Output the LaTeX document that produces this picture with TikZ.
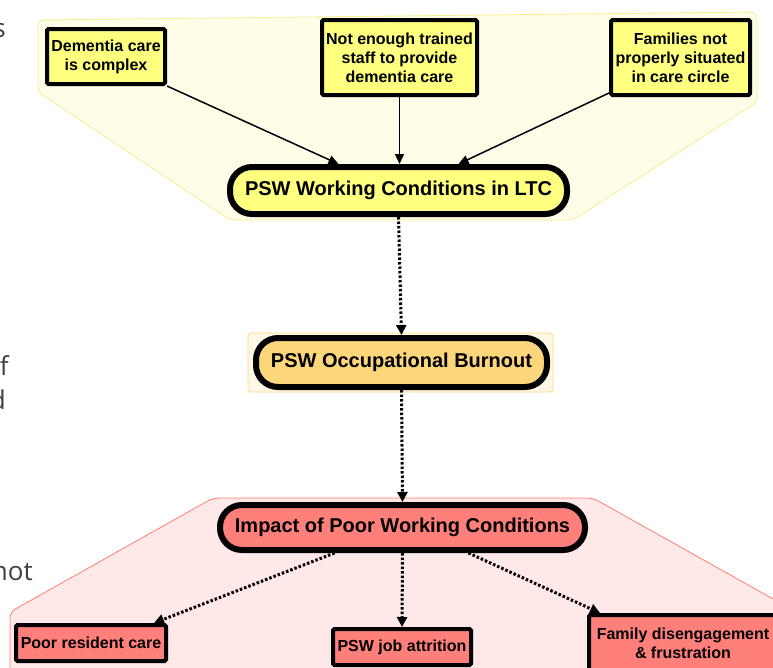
\documentclass[tikz,border=0pt]{standalone}
\usepackage{fontspec}
\setmainfont{Liberation Sans}
\newfontfamily\slidefont{Open Sans}
\usetikzlibrary{arrows.meta}
\definecolor{causefill}{HTML}{FFFF80}
\definecolor{causebg}{HTML}{FFFDE8}
\definecolor{causeedge}{HTML}{F7EE8C}
\definecolor{burnfill}{HTML}{FCD67A}
\definecolor{burnbg}{HTML}{FFF8E6}
\definecolor{burnedge}{HTML}{FFD97A}
\definecolor{impactfill}{HTML}{FF7F7A}
\definecolor{impactbg}{HTML}{FFE8E8}
\definecolor{impactedge}{HTML}{FF7F6F}
\definecolor{slidegray}{HTML}{404040}
\tikzset{
box/.style={draw, line width=4pt, rounded corners=1.5pt, align=center, inner sep=0pt, font=\fontsize{16}{19}\selectfont\bfseries}, % the small square boxes
pill/.style={draw, line width=6pt, rounded corners=22pt, inner sep=0pt, font=\fontsize{20}{24}\selectfont\bfseries}, % the rounded main boxes
solidarrow/.style={-{Triangle[length=10pt, width=9pt]}, line width=1.5pt}, % causes into the working conditions
dotarrow/.style={-{Triangle[length=10pt, width=10pt]}, line width=3pt, dash pattern=on 2.5pt off 2pt}, % the chain of effects
group/.style={line width=0.8pt, rounded corners=6pt}, % coloured areas behind the boxes
slidetext/.style={text=slidegray, inner sep=0pt, font=\slidefont\fontsize{26}{30}\selectfont}, % cut off words of the slide
}

\begin{document}
\begin{tikzpicture}[x=1pt, y=-1pt]
        \useasboundingbox (0,0) rectangle (773,667);
        \clip (0,0) rectangle (773,667);

        % areas behind the boxes
        \filldraw[fill=causebg, draw=causeedge, group] (38,92) -- (38,20) -- (757,12) -- (757,102) -- (573,220) -- (230,220) -- cycle;
        \filldraw[fill=burnbg, draw=burnedge, line width=0.8pt, rounded corners=3pt] (248,333) rectangle (553,392);
        \filldraw[fill=impactbg, draw=impactedge, group] (10,690) -- (10,612) -- (213,498) -- (593,498) -- (800,614) -- (800,690) -- cycle;

        % words of the slide
        \node[slidetext, anchor=base east] (fragS) at (6,37) {s};
        \node[slidetext, anchor=base east] (fragF) at (9,375) {f};
        \node[slidetext, anchor=base east] (fragD) at (6,409) {d};
        \node[slidetext, anchor=base east] (fragNot) at (33,580) {not};

        \node[box, fill=causefill, minimum width=118pt, minimum height=55pt] (dementia) at (106,56.5) {Dementia care\\is complex};
        \node[box, fill=causefill, minimum width=155pt, minimum height=75pt] (staff) at (399.5,57.5) {Not enough trained\\staff to provide\\dementia care};
        \node[box, fill=causefill, minimum width=139pt, minimum height=75pt] (families) at (680.5,57.5) {Families not\\properly situated\\in care circle};
        \node[pill, fill=causefill, minimum width=337pt, minimum height=47pt] (conditions) at (398.5,190.5) {PSW Working Conditions in LTC};
        \node[pill, fill=burnfill, minimum width=291pt, minimum height=49pt] (burnout) at (401.5,362.5) {PSW Occupational Burnout};
        \node[pill, fill=impactfill, minimum width=365pt, minimum height=45pt] (impact) at (402.5,527.5) {Impact of Poor Working Conditions};
        \node[box, fill=impactfill, minimum width=150pt, minimum height=36pt] (care) at (91,643) {Poor resident care};
        \node[box, fill=impactfill, minimum width=138pt, minimum height=36pt] (attrition) at (402,647) {PSW job attrition};
        \node[box, fill=impactfill, minimum width=188pt, minimum height=56pt] (disengage) at (683,643) {Family disengagement\\\& frustration};

        \draw[solidarrow] (dementia.south east) -- ([xshift=-60pt]conditions.north);
        \draw[solidarrow] (staff.south) -- (staff.south |- conditions.north);
        \draw[solidarrow] ([yshift=4pt]families.south west) -- ([xshift=60pt]conditions.north);

        \draw[dotarrow] (conditions.south) -- (burnout.north);
        \draw[dotarrow] (burnout.south) -- (impact.north);
        \draw[dotarrow] ([xshift=-68pt]impact.south) -- ([xshift=-14pt]care.north east);
        \draw[dotarrow] (impact.south) -- (attrition.north);
        \draw[dotarrow] ([xshift=66pt]impact.south) -- ([xshift=13pt]disengage.north west);
\end{tikzpicture}
\end{document}
